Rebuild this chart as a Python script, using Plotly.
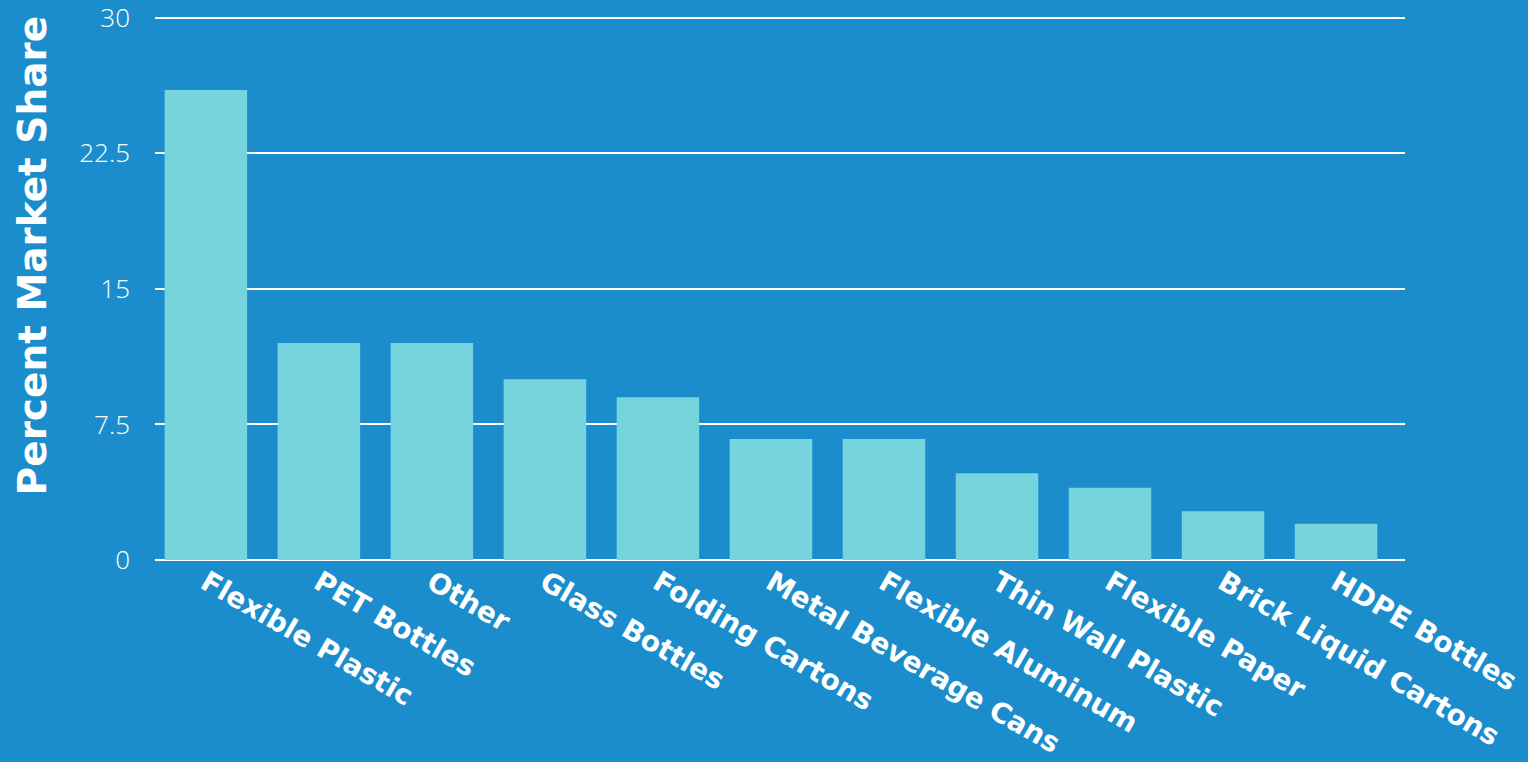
import plotly.graph_objects as go

categories = ["Flexible Plastic", "PET Bottles", "Other", "Glass Bottles", "Folding Cartons",
              "Metal Beverage Cans", "Flexible Aluminum", "Thin Wall Plastic", "Flexible Paper",
              "Brick Liquid Cartons", "HDPE Bottles"]
values = [26, 12, 12, 10, 9, 6.7, 6.7, 4.8, 4.0, 2.7, 2.0]
y_ticks = [0, 7.5, 15, 22.5, 30]
y_tick_labels = ["0", "7.5", "15", "22.5", "30"]

BG = "#1B8DCD"
BAR = "#76D4DC"
FONT = "Open Sans"
BOLD = "DejaVu Sans"

fig = go.Figure(go.Bar(x=categories, y=values, marker=dict(color=BAR, line=dict(width=0))))

fig.update_layout(
    width=1528, height=762,
    paper_bgcolor=BG, plot_bgcolor=BG,
    margin=dict(l=155, r=123, t=16, b=202, autoexpand=False),
    bargap=0.27,
    showlegend=False,
    font=dict(family=FONT, color="white"),
    xaxis=dict(
        range=[-0.45, 10.61],
        automargin=False,
        tickangle=30,
        tickfont=dict(family=BOLD, size=28, color="white", weight="bold"),
        showgrid=False, showline=False, ticks="",
    ),
    yaxis=dict(
        range=[0, 30.1],
        automargin=False,
        tickvals=y_ticks, ticktext=y_tick_labels,
        tickfont=dict(family=FONT, size=26, color="white", weight=300),
        ticklabeloverflow="allow",
        showgrid=True, gridcolor="white", gridwidth=2,
        zeroline=True, zerolinecolor="white", zerolinewidth=2,
        showline=False, ticks="", ticklabelstandoff=24,
    ),
    annotations=[dict(
        text="Percent Market Share", textangle=-90,
        xref="paper", yref="paper", x=-0.098, y=0.559,
        xanchor="center", yanchor="middle", showarrow=False,
        font=dict(family=BOLD, size=39, color="white", weight="bold"),
    )],
)

fig.write_html("out.html", config={"displayModeBar": False},
               post_script="document.body.style.margin='0';document.body.style.background='" + BG + "';")
